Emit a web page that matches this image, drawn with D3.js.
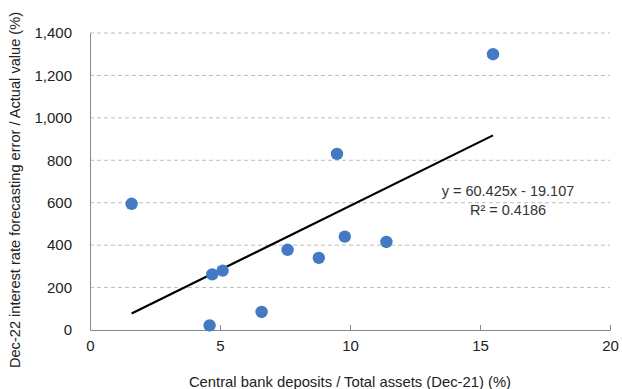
<!DOCTYPE html>
<html>
<head>
<meta charset="utf-8">
<script src="https://cdn.jsdelivr.net/npm/d3@7"></script>
<style>
  body { margin: 0; background: white; }
  text { font-family: 'Liberation Sans', Helvetica, Arial, sans-serif; }
</style>
</head>
<body>
<script>
// data
const depositShare = [1.6, 4.6, 4.7, 5.1, 6.6, 7.6, 8.8, 9.5, 9.8, 11.4, 15.5]
const forecastError = [595, 22, 262, 280, 85, 378, 340, 830, 440, 415, 1300]
const xTicks = [0, 5, 10, 15, 20]
const yTicks = [0, 200, 400, 600, 800, 1000, 1200, 1400]
const slope = 60.425, intercept = -19.107
const eqLabel = 'y = 60.425x - 19.107'
const r2Label = 'R² = 0.4186'

const width = 622, height = 389
const margin = { left: 90, right: 12, top: 33, bottom: 59 }

const svg = d3.select('body').append('svg')
    .attr('width', width).attr('height', height)

const x = d3.scaleLinear().domain([0, 20]).range([margin.left, width - margin.right])
const y = d3.scaleLinear().domain([0, 1400]).range([height - margin.bottom, margin.top])

//gridlines
svg.append('g').selectAll('line').data(yTicks.slice(1)).join('line')
    .attr('x1', x(0)).attr('x2', x(20))
    .attr('y1', d => y(d)).attr('y2', d => y(d))
    .attr('stroke', '#bdbdbd').attr('stroke-dasharray', '4,3')

//y axis
const yAxis = svg.append('g').attr('transform', `translate(${x(0)},0)`)
    .call(d3.axisLeft(y).tickValues(yTicks).tickSize(0).tickPadding(18).tickFormat(d3.format(',')))
yAxis.select('.domain').attr('stroke', '#888')
yAxis.selectAll('text').attr('font-size', 15).attr('fill', '#222')

//x axis
const xAxis = svg.append('g').attr('transform', `translate(0,${y(0)})`)
    .call(d3.axisBottom(x).tickValues(xTicks).tickSizeInner(-5).tickSizeOuter(0).tickPadding(10).tickFormat(d3.format('d')))
xAxis.select('.domain').attr('stroke', '#888')
xAxis.selectAll('.tick line').attr('stroke', '#888')
xAxis.selectAll('text').attr('font-size', 15).attr('fill', '#222')

//titres
svg.append('text').text('Central bank deposits / Total assets (Dec-21) (%)')
    .attr('x', 350).attr('y', 387).attr('text-anchor', 'middle')
    .attr('font-size', 14.8).attr('fill', '#222')
svg.append('text').text('Dec-22 interest rate forecasting error / Actual value (%)')
    .attr('transform', `translate(20,190) rotate(-90)`)
    .attr('text-anchor', 'middle').attr('font-size', 14.6).attr('fill', '#222')

//trendline
const xMin = d3.min(depositShare), xMax = d3.max(depositShare)
svg.append('line')
    .attr('x1', x(xMin)).attr('y1', y(slope * xMin + intercept))
    .attr('x2', x(xMax)).attr('y2', y(slope * xMax + intercept))
    .attr('stroke', 'black').attr('stroke-width', 2.2)

//points
svg.append('g').selectAll('circle').data(depositShare).join('circle')
    .attr('cx', d => x(d)).attr('cy', (d, i) => y(forecastError[i]))
    .attr('r', 6.2).attr('fill', '#4479c3')

//equation
svg.append('text').text(eqLabel).attr('x', 508).attr('y', 196)
    .attr('text-anchor', 'middle').attr('font-size', 14.5).attr('fill', '#333')
svg.append('text').text(r2Label).attr('x', 508).attr('y', 215)
    .attr('text-anchor', 'middle').attr('font-size', 14.5).attr('fill', '#333')
</script>
</body>
</html>
